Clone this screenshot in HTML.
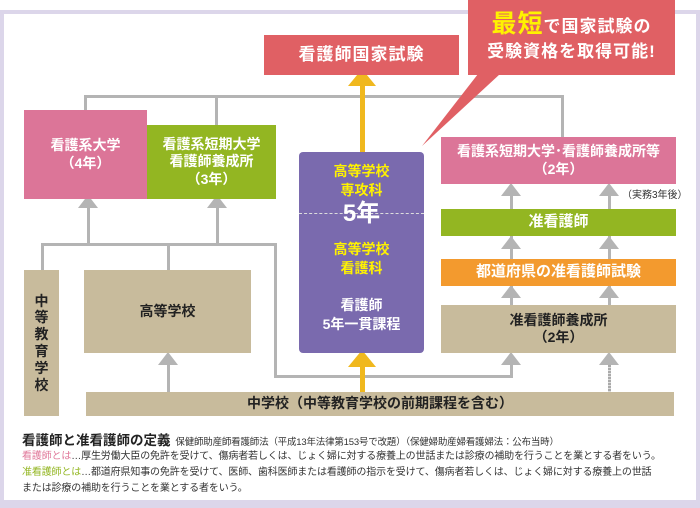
<!DOCTYPE html>
<html><head><meta charset="utf-8"><style>
body{margin:0;width:700px;height:508px;position:relative;overflow:hidden;background:#fff;font-family:"Liberation Sans","Noto Sans CJK JP",sans-serif;}
.a{position:absolute;box-sizing:border-box;}
.c{display:flex;align-items:center;justify-content:center;text-align:center;flex-direction:column;font-weight:bold;line-height:1.25;}
.l{position:absolute;background:#b4b4b4;}
.t{position:absolute;width:0;height:0;border-left:10px solid transparent;border-right:10px solid transparent;border-bottom:13px solid #b4b4b4;}
</style></head><body>
<div class="a" style="left:0;top:10px;width:700px;height:498px;border:4px solid #dcd6ea;border-bottom-width:8px"></div>

<div class="l" style="left:84px;top:95px;width:479px;height:3px"></div>
<div class="l" style="left:84px;top:95px;width:3px;height:16px"></div>
<div class="l" style="left:215px;top:95px;width:3px;height:30px"></div>
<div class="l" style="left:561px;top:95px;width:3px;height:43px"></div>
<div class="l" style="left:41px;top:243px;width:235px;height:3px"></div>
<div class="l" style="left:41px;top:243px;width:3px;height:28px"></div>
<div class="l" style="left:167px;top:243px;width:3px;height:28px"></div>
<div class="l" style="left:87px;top:205px;width:3px;height:40px"></div>
<div class="l" style="left:216px;top:205px;width:3px;height:40px"></div>
<div class="t" style="left:78px;top:195px"></div>
<div class="t" style="left:207px;top:195px"></div>
<div class="l" style="left:274px;top:243px;width:3px;height:135px"></div>
<div class="l" style="left:274px;top:375px;width:239px;height:3px"></div>
<div class="l" style="left:510px;top:360px;width:3px;height:18px"></div>
<div class="t" style="left:501px;top:352px"></div>
<div class="l" style="left:167px;top:360px;width:3px;height:33px"></div>
<div class="t" style="left:158px;top:352px"></div>
<div class="a" style="left:608px;top:362px;width:3px;height:31px;background:repeating-linear-gradient(#aaa 0 2px,#ddd 2px 3px)"></div>
<div class="t" style="left:599px;top:352px"></div>
<div class="l" style="left:510px;top:190px;width:3px;height:120px"></div>
<div class="l" style="left:608px;top:190px;width:3px;height:120px"></div>
<div class="t" style="left:501px;top:183px"></div><div class="t" style="left:599px;top:183px"></div>
<div class="t" style="left:501px;top:236px"></div><div class="t" style="left:599px;top:236px"></div>
<div class="t" style="left:501px;top:285px"></div><div class="t" style="left:599px;top:285px"></div>

<div class="a" style="left:360px;top:80px;width:5px;height:73px;background:#f0b81e"></div>
<div class="a" style="left:348px;top:69px;width:0;height:0;border-left:14px solid transparent;border-right:14px solid transparent;border-bottom:17px solid #f0b81e"></div>
<div class="a" style="left:360px;top:365px;width:5px;height:28px;background:#f0b81e"></div>
<div class="a" style="left:348px;top:350px;width:0;height:0;border-left:14px solid transparent;border-right:14px solid transparent;border-bottom:17px solid #f0b81e"></div>

<div class="a c" style="left:264px;top:35px;width:195px;height:40px;background:#e06064;color:#fff;font-size:17px;letter-spacing:1px">看護師国家試験</div>
<div class="a c" style="left:24px;top:110px;width:123px;height:89px;background:#dc7598;color:#fff;font-size:14px">看護系大学<br>（4年）</div>
<div class="a c" style="left:147px;top:125px;width:129px;height:74px;background:#93b622;color:#fff;font-size:14px">看護系短期大学<br>看護師養成所<br>（3年）</div>
<div class="a c" style="left:24px;top:270px;width:35px;height:146px;background:#c8bb9c;color:#222;font-size:14px;line-height:1.2">中<br>等<br>教<br>育<br>学<br>校</div>
<div class="a c" style="left:84px;top:270px;width:167px;height:83px;background:#c8bb9c;color:#222;font-size:14px">高等学校</div>
<div class="a c" style="left:86px;top:392px;width:588px;height:24px;background:#c8bb9c;color:#222;font-size:14px">中学校（中等教育学校の前期課程を含む）</div>

<div class="a" style="left:299px;top:152px;width:125px;height:201px;background:#7a6aae;border-radius:4px;color:#fff;font-weight:bold;text-align:center">
 <div style="position:absolute;top:10px;width:100%;color:#fff200;font-size:14px;line-height:19px">高等学校<br>専攻科</div>
 <div style="position:absolute;top:61px;width:100%;border-top:1px dashed #ddd"></div>
 <div style="position:absolute;top:48px;width:100%;font-size:24px;line-height:28px">5年</div>
 <div style="position:absolute;top:88px;width:100%;color:#fff200;font-size:14px;line-height:19px">高等学校<br>看護科</div>
 <div style="position:absolute;top:144px;width:100%;font-size:14px;line-height:19px">看護師<br>5年一貫課程</div>
</div>

<div class="a c" style="left:441px;top:137px;width:235px;height:47px;background:#dc7598;color:#fff;font-size:14px">看護系短期大学･看護師養成所等<br>（2年）</div>
<div class="a" style="left:622px;top:186px;font-size:10px;color:#333">（実務3年後）</div>
<div class="a c" style="left:441px;top:209px;width:235px;height:27px;background:#93b622;color:#fff;font-size:15px">准看護師</div>
<div class="a c" style="left:441px;top:259px;width:235px;height:27px;background:#f39a2e;color:#fff;font-size:15px">都道府県の准看護師試験</div>
<div class="a c" style="left:441px;top:305px;width:235px;height:48px;background:#c8bb9c;color:#222;font-size:14px">准看護師養成所<br>（2年）</div>

<svg class="a" style="left:0;top:0" width="700" height="160"><polygon points="478,74 500,74 422,146" fill="#e06064"/></svg>
<div class="a c" style="left:468px;top:0;width:207px;height:75px;background:#e06064;color:#fff;font-size:17px;line-height:25px;letter-spacing:1px">
<div><span style="color:#fff200;font-size:25px">最短</span>で国家試験の</div><div>受験資格を取得可能!</div></div>

<div class="a" style="left:22px;top:429px;font-size:9.5px;color:#333;white-space:nowrap;letter-spacing:-0.2px"><b style="font-size:13.5px;color:#222;letter-spacing:0">看護師と准看護師の定義</b>&nbsp; 保健師助産師看護師法（平成13年法律第153号で改題）（保健婦助産婦看護婦法：公布当時）</div>
<div class="a" style="left:22px;top:449px;font-size:10px;line-height:16px;color:#333;white-space:nowrap;letter-spacing:-0.15px">
<span style="color:#e0789a">看護師とは</span>…厚生労働大臣の免許を受けて、傷病者若しくは、じょく婦に対する療養上の世話または診療の補助を行うことを業とする者をいう。<br>
<span style="color:#93b622">准看護師とは</span>…都道府県知事の免許を受けて、医師、歯科医師または看護師の指示を受けて、傷病者若しくは、じょく婦に対する療養上の世話<br>または診療の補助を行うことを業とする者をいう。</div>
</body></html>
